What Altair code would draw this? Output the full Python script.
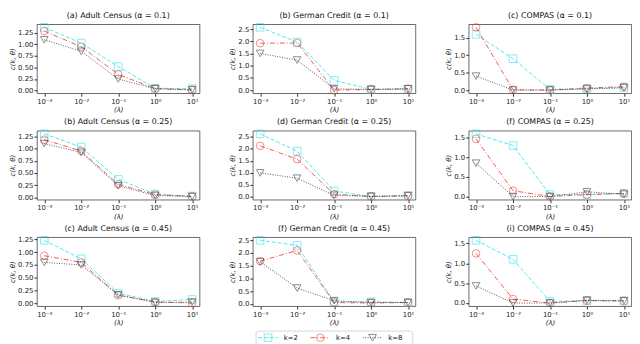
import altair as alt
import pandas as pd

lam = [0.001, 0.01, 0.1, 1, 10]
x_labels = ["10⁻³", "10⁻²", "10⁻¹", "10⁰", "10¹"]
ks = ["k=2", "k=4", "k=8"]
colors = ["#22e3ee", "#f0302e", "#303030"]
dashes = [[4, 2], [5, 2, 1, 2], [1, 1.5]]
shapes = ["square", "circle", "triangle-down"]

adult_ticks = [0.0, 0.25, 0.5, 0.75, 1.0, 1.25]
german_ticks = [0.0, 0.5, 1.0, 1.5, 2.0, 2.5]
compas_ticks = [0.0, 0.5, 1.0, 1.5]

titles = [
    "(a) Adult Census (α = 0.1)", "(b) German Credit (α = 0.1)", "(c) COMPAS (α = 0.1)",
    "(b) Adult Census (α = 0.25)", "(d) German Credit (α = 0.25)", "(f) COMPAS (α = 0.25)",
    "(c) Adult Census (α = 0.45)", "(f) German Credit (α = 0.45)", "(i) COMPAS (α = 0.45)",
]

adult_010 = {"k=2": [1.37, 1.03, 0.52, 0.05, 0.04],
             "k=4": [1.29, 0.95, 0.35, 0.04, 0.01],
             "k=8": [1.10, 0.85, 0.25, 0.04, 0.02]}
german_010 = {"k=2": [2.57, 1.97, 0.40, 0.03, 0.05],
              "k=4": [1.92, 1.93, 0.00, 0.02, 0.05],
              "k=8": [1.50, 1.23, 0.05, 0.03, 0.05]}
compas_010 = {"k=2": [1.60, 0.90, 0.02, 0.04, 0.07],
              "k=4": [1.80, 0.01, 0.00, 0.06, 0.10],
              "k=8": [0.40, 0.00, 0.00, 0.03, 0.07]}
adult_025 = {"k=2": [1.30, 1.03, 0.37, 0.07, 0.03],
             "k=4": [1.18, 0.95, 0.27, 0.06, 0.02],
             "k=8": [1.10, 0.92, 0.24, 0.04, 0.02]}
german_025 = {"k=2": [2.62, 1.90, 0.25, 0.02, 0.05],
              "k=4": [2.12, 1.57, 0.12, 0.02, 0.05],
              "k=8": [1.00, 0.78, 0.07, 0.03, 0.06]}
compas_025 = {"k=2": [1.60, 1.30, 0.05, 0.05, 0.08],
              "k=4": [1.47, 0.15, 0.00, 0.05, 0.08],
              "k=8": [0.85, 0.00, 0.00, 0.12, 0.06]}
adult_045 = {"k=2": [1.23, 0.87, 0.20, 0.04, 0.08],
             "k=4": [0.93, 0.80, 0.16, 0.03, 0.01],
             "k=8": [0.80, 0.75, 0.17, 0.02, 0.03]}
german_045 = {"k=2": [2.50, 2.30, 0.07, 0.08, 0.05],
              "k=4": [1.68, 2.10, 0.05, 0.03, 0.05],
              "k=8": [1.65, 0.62, 0.12, 0.05, 0.05]}
compas_045 = {"k=2": [1.58, 1.10, 0.04, 0.06, 0.05],
              "k=4": [1.25, 0.10, 0.00, 0.06, 0.05],
              "k=8": [0.43, 0.00, 0.00, 0.07, 0.06]}

panels_data = [adult_010, german_010, compas_010,
               adult_025, german_025, compas_025,
               adult_045, german_045, compas_045]
panels_ticks = [adult_ticks, german_ticks, compas_ticks] * 3
panels_fmt = [".2f", ".1f", ".1f"] * 3

W, H = 165, 70

label_expr = "[" + ",".join("'%s'" % s for s in x_labels) + "][round(log(datum.value)/LN10)+3]"

color_enc = alt.Color("k:N", scale=alt.Scale(domain=ks, range=colors), legend=None)
dash_enc = alt.StrokeDash("k:N", scale=alt.Scale(domain=ks, range=dashes), legend=None)
shape_enc = alt.Shape("k:N", scale=alt.Scale(domain=ks, range=shapes), legend=None)


def panel(title, vals, ticks, fmt):
    rows = []
    for k in ks:
        for x, y in zip(lam, vals[k]):
            rows.append({"lam": x, "val": y, "k": k})
    df = pd.DataFrame(rows)
    lo, hi = df["val"].min(), df["val"].max()
    pad = 0.05 * (hi - lo)
    xenc = alt.X("lam:Q",
                 scale=alt.Scale(type="log", domain=[10 ** -3.2, 10 ** 1.2], nice=False),
                 axis=alt.Axis(values=lam, labelExpr=label_expr, title="(λ)"))
    yenc = alt.Y("val:Q",
                 scale=alt.Scale(domain=[lo - pad, hi + pad], nice=False, zero=False),
                 axis=alt.Axis(values=ticks, format=fmt, title="c(k, θ)"))
    base = alt.Chart(df)
    line = base.mark_line(strokeWidth=1, opacity=0.8).encode(
        x=xenc, y=yenc, color=color_enc, strokeDash=dash_enc)
    pts = base.mark_point(filled=False, size=60, strokeWidth=1, opacity=0.55).encode(
        x=xenc, y=yenc, color=color_enc, shape=shape_enc)
    return alt.layer(line, pts).properties(
        width=W, height=H, title=alt.TitleParams(title))


charts = [panel(t, d, tk, f) for t, d, tk, f in zip(titles, panels_data, panels_ticks, panels_fmt)]
rows = [alt.hconcat(*charts[i * 3:(i + 1) * 3], spacing=28) for i in range(3)]

leg_df = pd.DataFrame({"k": ks})
lx = alt.X("k:N", scale=alt.Scale(type="point", domain=ks, padding=0.5), axis=None)
leg_base = alt.Chart(leg_df)
leg_rule = leg_base.mark_rule(xOffset=-24, x2Offset=-4, strokeWidth=1, opacity=0.8).encode(
    x=lx, x2="k:N", y=alt.value(7), color=color_enc, strokeDash=dash_enc)
leg_pt = leg_base.mark_point(filled=False, size=60, strokeWidth=1, opacity=0.55, xOffset=-14).encode(
    x=lx, color=color_enc, shape=shape_enc)
leg_txt = leg_base.mark_text(align="left", xOffset=2, fontSize=7, color="#222").encode(
    x=lx, text="k:N")
legend = alt.layer(leg_rule, leg_pt, leg_txt).properties(
    width=159, height=14,
    view=alt.ViewBackground(stroke="#cccccc", strokeWidth=0.8, cornerRadius=3))

chart = alt.vconcat(*rows, legend, spacing=3, center=True).resolve_scale(
    x="independent", y="independent"
).properties(padding=0).configure(
    font="DejaVu Sans"
).configure_view(
    stroke="#444444", strokeWidth=0.8
).configure_axis(
    grid=False, domain=False, ticks=True, tickSize=3, tickColor="#333333",
    labelFontSize=7, labelColor="#222222", labelPadding=1,
    titleFontSize=7, titleFontWeight="normal", titleFontStyle="italic",
    titleColor="#222222", titlePadding=2
).configure_title(
    fontSize=8, fontWeight="normal", color="#111111", offset=2
)

chart.save("out.html", embed_options={"renderer": "svg", "actions": False})
